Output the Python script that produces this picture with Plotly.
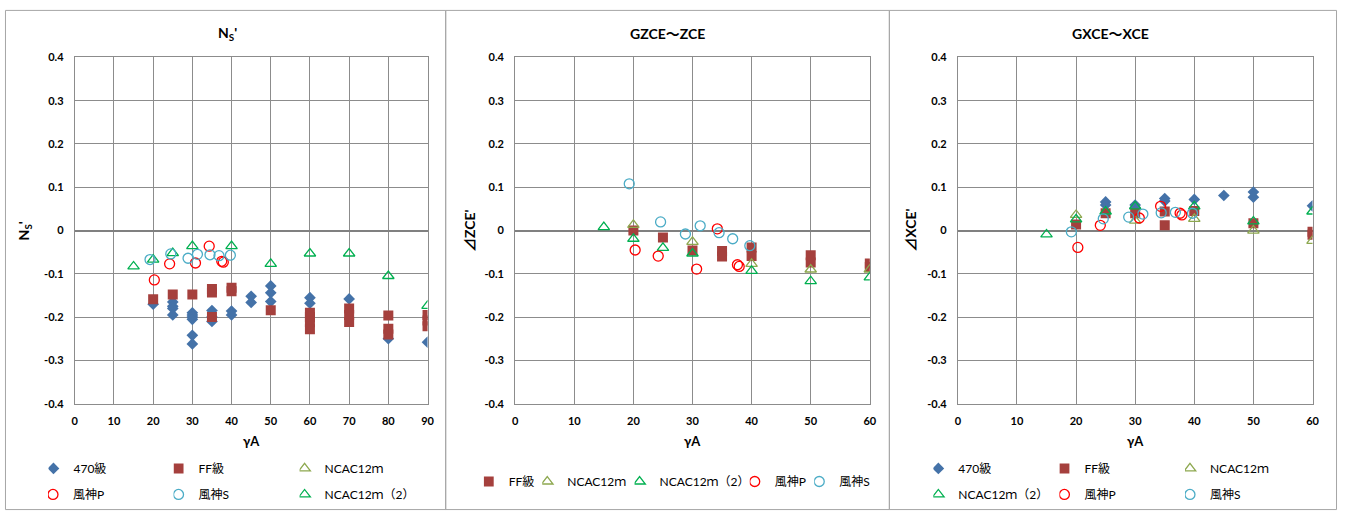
import plotly.graph_objects as go

W, H = 1347, 518

# ---------------- data ----------------
# Panel 1 : Ns'
ns_470_x = [20, 25, 25, 25, 25, 30, 30, 30, 30, 30, 30, 35, 35, 35, 40, 40, 45, 45, 50, 50, 50, 60, 60, 70, 80, 90]
ns_470_y = [-0.170, -0.165, -0.175, -0.180, -0.195, -0.190, -0.195, -0.200, -0.205, -0.242, -0.262,
            -0.185, -0.200, -0.210, -0.186, -0.195, -0.152, -0.166, -0.128, -0.144, -0.164,
            -0.155, -0.168, -0.158, -0.250, -0.258]
ns_ff_x = [20, 25, 30, 35, 35, 35, 40, 40, 50, 60, 60, 60, 60, 70, 70, 70, 80, 80, 80, 90, 90, 90]
ns_ff_y = [-0.159, -0.148, -0.148, -0.135, -0.143, -0.200, -0.132, -0.140, -0.184,
           -0.190, -0.200, -0.212, -0.228, -0.180, -0.195, -0.211, -0.196, -0.227, -0.240,
           -0.195, -0.208, -0.221]
ns_nc_x = [None]
ns_nc_y = [None]
ns_nc2_x = [15, 20, 25, 30, 40, 50, 60, 70, 80, 90]
ns_nc2_y = [-0.083, -0.067, -0.052, -0.036, -0.036, -0.077, -0.053, -0.053, -0.105, -0.174]
ns_p_x = [20.3, 24.2, 30.8, 34.3, 37.5, 37.9]
ns_p_y = [-0.114, -0.077, -0.075, -0.036, -0.071, -0.073]
ns_s_x = [19.2, 24.5, 28.9, 31.3, 34.5, 36.8, 39.7]
ns_s_y = [-0.067, -0.054, -0.064, -0.055, -0.056, -0.058, -0.057]

# Panel 2 : GZCE~ZCE
z_ff_x = [20, 25, 30, 35, 35, 40, 40, 50, 50, 60, 60]
z_ff_y = [0.000, -0.016, -0.046, -0.047, -0.060, -0.039, -0.059, -0.057, -0.074, -0.076, -0.084]
z_nc_x = [20, 30, 40, 50, 60]
z_nc_y = [0.013, -0.026, -0.077, -0.090, -0.090]
z_nc2_x = [15, 20, 25, 30, 40, 50, 60]
z_nc2_y = [0.008, -0.019, -0.040, -0.053, -0.093, -0.117, -0.108]
z_p_x = [20.3, 24.2, 30.7, 34.2, 37.6, 37.9]
z_p_y = [-0.045, -0.059, -0.089, 0.004, -0.079, -0.083]
z_s_x = [19.3, 24.6, 28.8, 31.3, 34.5, 36.8, 39.7]
z_s_y = [0.108, 0.020, -0.008, 0.011, -0.005, -0.019, -0.035]

# Panel 3 : GXCE~XCE
x_470_x = [25, 25, 30, 30, 35, 35, 40, 45, 50, 50, 60]
x_470_y = [0.066, 0.059, 0.059, 0.053, 0.074, 0.068, 0.072, 0.081, 0.089, 0.077, 0.057]
x_ff_x = [20, 25, 30, 35, 35, 40, 50, 60, 60]
x_ff_y = [0.014, 0.040, 0.040, 0.044, 0.012, 0.045, 0.017, -0.003, -0.010]
x_nc_x = [20, 30, 40, 50, 60]
x_nc_y = [0.036, 0.023, 0.027, 0.000, -0.024]
x_nc2_x = [15, 20, 25, 30, 40, 50, 60]
x_nc2_y = [-0.009, 0.026, 0.044, 0.056, 0.056, 0.021, 0.044]
x_p_x = [20.3, 24.1, 30.7, 34.3, 37.6, 37.9]
x_p_y = [-0.039, 0.012, 0.029, 0.056, 0.040, 0.036]
x_s_x = [19.2, 24.6, 28.9, 31.3, 34.4, 36.8, 39.7]
x_s_y = [-0.003, 0.027, 0.031, 0.038, 0.041, 0.042, 0.040]

# ticks
y_tickvals = [0.4, 0.3, 0.2, 0.1, 0, -0.1, -0.2, -0.3, -0.4]
y_ticktext = ["0.4", "0.3", "0.2", "0.1", "0", "-0.1", "-0.2", "-0.3", "-0.4"]
x1_tickvals = [0, 10, 20, 30, 40, 50, 60, 70, 80, 90]
x23_tickvals = [0, 10, 20, 30, 40, 50, 60]

panel_titles = ["N<sub>S</sub>'", "GZCE～ZCE", "GXCE～XCE"]
y_titles = ["N<sub>S</sub>'", "⊿ZCE'", "⊿XCE'"]
x_title = "γA"

# ---------------- styles ----------------
FONT = "Lato, 'Noto Sans CJK JP', sans-serif"
styles = {
    "470級": dict(symbol="diamond", size=9, color="#4472A8", line=dict(width=0)),
    "FF級": dict(symbol="square", size=10, color="#A5403D", line=dict(width=0)),
    "NCAC12ｍ": dict(symbol="triangle-up-open", size=10, color="#8DA84F", line=dict(width=1.3, color="#8DA84F")),
    "NCAC12ｍ（2）": dict(symbol="triangle-up-open", size=10, color="#00B050", line=dict(width=1.3, color="#00B050")),
    "風神P": dict(symbol="circle-open", size=10, color="#FF0000", line=dict(width=1.3, color="#FF0000")),
    "風神S": dict(symbol="circle-open", size=10, color="#4BACC6", line=dict(width=1.3, color="#4BACC6")),
}

def px(v):
    return v / W

def py(v):
    return 1 - v / H

fig = go.Figure()
legend_defs = {}
TEXT_OFF = 26.7  # legend origin -> start of legend text (measured)

def legend_cfg(x_text, y_mid):
    return dict(orientation="h", x=px(x_text - TEXT_OFF), y=py(y_mid), xanchor="left", yanchor="middle",
                xref="paper", yref="paper", itemwidth=30, indentation=-15,
                bgcolor="rgba(0,0,0,0)", borderwidth=0,
                font=dict(family=FONT, size=12, color="#000000"), itemclick=False, itemdoubleclick=False)

def add(name, xs, ys, ax, leg_pos):
    key = "legend" if not legend_defs else "legend%d" % (len(legend_defs) + 1)
    legend_defs[key] = legend_cfg(*leg_pos)
    fig.add_trace(go.Scatter(
        x=xs, y=ys, mode="markers", name=name, marker=styles[name],
        xaxis="x" + ax, yaxis="y" + ax, legend=key, showlegend=True,
        hoverinfo="x+y+name"))

R1, R2, RM = 473.3, 500.0, 486.7
# panel 1
add("470級", ns_470_x, ns_470_y, "", (72.5, R1))
add("FF級", ns_ff_x, ns_ff_y, "", (198.5, R1))
add("NCAC12ｍ", ns_nc_x, ns_nc_y, "", (325.5, R1))
add("NCAC12ｍ（2）", ns_nc2_x, ns_nc2_y, "", (325.5, R2))
add("風神P", ns_p_x, ns_p_y, "", (72, R2))
add("風神S", ns_s_x, ns_s_y, "", (198.5, R2))
# panel 2
add("FF級", z_ff_x, z_ff_y, "2", (511, RM))
add("NCAC12ｍ", z_nc_x, z_nc_y, "2", (570, RM))
add("NCAC12ｍ（2）", z_nc2_x, z_nc2_y, "2", (663, RM))
add("風神P", z_p_x, z_p_y, "2", (779, RM))
add("風神S", z_s_x, z_s_y, "2", (844, RM))
# panel 3
add("470級", x_470_x, x_470_y, "3", (964, R1))
add("FF級", x_ff_x, x_ff_y, "3", (1091, R1))
add("NCAC12ｍ", x_nc_x, x_nc_y, "3", (1217.5, R1))
add("NCAC12ｍ（2）", x_nc2_x, x_nc2_y, "3", (964, R2))
add("風神P", x_p_x, x_p_y, "3", (1091, R2))
add("風神S", x_s_x, x_s_y, "3", (1217.5, R2))

GRID = "#8c8c8c"
tickfont = dict(family=FONT, size=11, color="#000000", weight="bold")

plots = [(72.3, 427.7, x1_tickvals, 90), (516, 873.3, x23_tickvals, 60), (962, 1319.3, x23_tickvals, 60)]
layout = dict(
    width=W, height=H, margin=dict(l=0, r=0, t=0, b=0),
    paper_bgcolor="white", plot_bgcolor="white",
    font=dict(family=FONT, size=12, color="#000000"),
    hovermode="closest",
)
for i, (l, r, tv, xmax) in enumerate(plots):
    sfx = "" if i == 0 else str(i + 1)
    layout["xaxis" + sfx] = dict(
        domain=[px(l), px(r)], range=[0, xmax], tickvals=tv, ticktext=[str(t) for t in tv],
        showgrid=True, gridcolor=GRID, gridwidth=1, zeroline=False,
        showline=True, mirror=True, linecolor=GRID, linewidth=1,
        ticks="", tickfont=tickfont, ticklabelstandoff=7,
        anchor="y" + sfx, fixedrange=True)
    layout["yaxis" + sfx] = dict(
        domain=[py(406.9), py(51.7)], range=[-0.4, 0.4], tickvals=y_tickvals, ticktext=y_ticktext,
        showgrid=True, gridcolor=GRID, gridwidth=1, zeroline=True, zerolinecolor="#808080", zerolinewidth=2,
        showline=True, mirror=True, linecolor=GRID, linewidth=1,
        ticks="", tickfont=tickfont, ticklabelstandoff=8,
        anchor="x" + sfx, fixedrange=True)

fig.update_layout(**layout)
fig.update_layout(**legend_defs)

# panel frames
frames = [(2.5, 446), (446, 893), (893, 1343.5)]
for (a, b) in frames:
    fig.add_shape(type="rect", xref="paper", yref="paper", x0=px(a), x1=px(b), y0=py(515.5), y1=py(3.5),
                  line=dict(color="#a6a6a6", width=1), fillcolor="rgba(0,0,0,0)", layer="below")

# titles and axis titles
panel_centers = [226, 669.5, 1116]
ytitle_x = [22, 470, 914]
for i in range(3):
    fig.add_annotation(text="<b>" + panel_titles[i] + "</b>", x=px(panel_centers[i]), y=py(27),
                       xref="paper", yref="paper", showarrow=False, xanchor="center", yanchor="middle",
                       font=dict(family=FONT, size=14, color="#000000"))
    l, r = plots[i][0], plots[i][1]
    fig.add_annotation(text="<b>" + x_title + "</b>", x=px((l + r) / 2), y=py(445),
                       xref="paper", yref="paper", showarrow=False, xanchor="center", yanchor="middle",
                       font=dict(family=FONT, size=13, color="#000000"))
    fig.add_annotation(text="<b>" + y_titles[i] + "</b>", x=px(ytitle_x[i]), y=py(229.3),
                       xref="paper", yref="paper", showarrow=False, xanchor="center", yanchor="middle",
                       textangle=-90, font=dict(family=FONT, size=14, color="#000000"))

fig.write_html("out.html")
